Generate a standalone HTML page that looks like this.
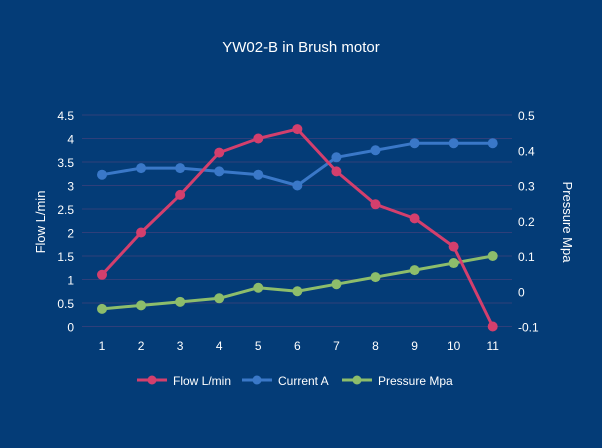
<!DOCTYPE html>
<html><head><meta charset="utf-8"><style>
body{margin:0;background:#043c77;}
svg{display:block;font-family:"Liberation Sans",sans-serif;}
</style></head><body>
<svg id="c" width="602" height="448">
<rect width="602" height="448" fill="#043c77"/>
<text x="301" y="52" fill="#fff" font-size="15" text-anchor="middle">YW02-B in Brush motor</text>
<text transform="translate(45,222) rotate(-90)" fill="#fff" font-size="13" text-anchor="middle">Flow  L/min</text>
<text transform="translate(563,222) rotate(90)" fill="#fff" font-size="13" text-anchor="middle">Pressure  Mpa</text>
<g id="grid"></g><g id="series"></g>
<g>
<line x1="137" y1="380" x2="167" y2="380" stroke="#d33f6d" stroke-width="3"/><circle cx="152" cy="380" r="4.5" fill="#d33f6d"/>
<text x="173" y="385" fill="#fff" font-size="12">Flow L/min</text>
<line x1="242" y1="380" x2="272" y2="380" stroke="#3a78c8" stroke-width="3"/><circle cx="257" cy="380" r="4.5" fill="#3a78c8"/>
<text x="278" y="385" fill="#fff" font-size="12">Current A</text>
<line x1="342" y1="380" x2="372" y2="380" stroke="#8dbd6b" stroke-width="3"/><circle cx="357" cy="380" r="4.5" fill="#8dbd6b"/>
<text x="378" y="385" fill="#fff" font-size="12">Pressure Mpa</text>
</g>
</svg>
<script>
const categories=[1,2,3,4,5,6,7,8,9,10,11];
const flow=[1.1,2.0,2.8,3.7,4.0,4.2,3.3,2.6,2.3,1.7,0];
const current=[3.23,3.37,3.37,3.3,3.23,3.0,3.6,3.75,3.9,3.9,3.9];
const pressure=[-0.05,-0.04,-0.03,-0.02,0.01,0,0.02,0.04,0.06,0.08,0.1];
const leftTicks=[0,0.5,1,1.5,2,2.5,3,3.5,4,4.5];
const rightTicks=[-0.1,0,0.1,0.2,0.3,0.4,0.5];
const NS="http://www.w3.org/2000/svg";
const x=i=>102+(i)*(492.7-102)/10;
const yL=v=>326.5-v*(326.5-115)/4.5;
const yR=v=>326.5-(v+0.1)*(326.5-115)/0.6;
const grid=document.getElementById('grid'),ser=document.getElementById('series');
function mk(t,a,p){const e=document.createElementNS(NS,t);for(const k in a)e.setAttribute(k,a[k]);p.appendChild(e);return e;}
leftTicks.forEach(v=>{
 const l=mk('line',{x1:82,x2:512,y1:yL(v),y2:yL(v),stroke:'#2f3f7a','stroke-width':1},grid);
 
 
 const t=mk('text',{x:74,y:yL(v)+5,fill:'#fff','font-size':12,'text-anchor':'end'},grid);t.textContent=v;
 
 
});
rightTicks.forEach(v=>{
 const t=mk('text',{x:518,y:yR(v)+5,fill:'#fff','font-size':12},grid);t.textContent=v;
 
 
});
categories.forEach((c,i)=>{
 const t=mk('text',{x:x(i),y:350,fill:'#fff','font-size':12,'text-anchor':'middle'},grid);t.textContent=c;
 
 
});
function draw(vals,fy,col,name){
 const pl=mk('polyline',{points:vals.map((v,i)=>x(i)+','+fy(v)).join(' '),fill:'none',stroke:col,'stroke-width':3,'stroke-linejoin':'round'},ser);
 
 
 vals.forEach((v,i)=>{const c=mk('circle',{cx:x(i),cy:fy(v),r:5,fill:col},ser);
 
 });
}
draw(pressure,yR,'#8dbd6b','pressure');
draw(current,yL,'#3a78c8','current');
draw(flow,yL,'#d33f6d','flow');
</script>
</body></html>
